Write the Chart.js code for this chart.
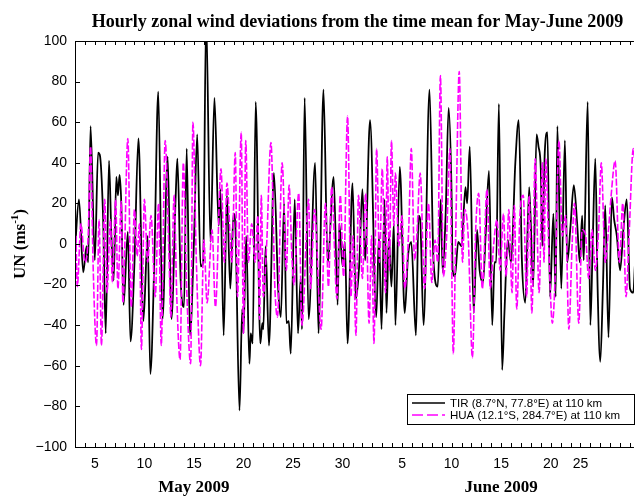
<!DOCTYPE html>
<html>
<head>
<meta charset="utf-8">
<title>Hourly zonal wind deviations May-June 2009</title>
<script src="https://cdn.jsdelivr.net/npm/chart.js@4.4.1/dist/chart.umd.min.js"></script>
<style>
  html, body { margin: 0; padding: 0; background: #fff; }
  #windChart { display: block; }
</style>
</head>
<body>
<canvas id="windChart" width="639" height="499"></canvas>
<script>
// time axis counts days from the start of May (June 5 = 36)
var tirDays = [3.0, 3.4, 3.83, 4.17, 4.33, 4.57, 5.0, 5.33, 5.5, 5.83, 6.1, 6.43, 6.67, 6.9, 7.17, 7.33, 7.5, 7.67, 7.9, 8.33,
  8.6, 9.0, 9.4, 9.9, 10.33, 10.6, 11.0, 11.4, 11.83, 12.35, 12.73, 13.17, 13.33, 13.67, 14.0, 14.27, 14.6, 15.0, 15.33, 15.67,
  15.93, 16.23, 16.67, 17.07, 17.5, 17.67, 18.0, 18.33, 18.67, 19.0, 19.17, 19.6, 19.87, 20.0, 20.27, 20.6, 20.73, 20.93, 21.23, 21.7,
  21.9, 22.0, 22.23, 22.57, 23.07, 23.5, 23.77, 24.1, 24.33, 24.57, 24.77, 25.17, 25.5, 25.77, 25.9, 26.17, 26.57, 27.23, 27.57, 28.07,
  28.5, 29.1, 29.5, 29.67, 30.0, 30.23, 30.5, 31.0, 31.33, 31.67, 32.0, 32.27, 32.77, 33.4, 33.67, 33.93, 34.23, 34.43, 34.67, 34.93,
  35.17, 35.33, 35.77, 36.27, 36.6, 36.93, 37.4, 37.67, 37.83, 38.17, 38.77, 39.17, 39.6, 39.9, 40.1, 40.4, 40.7, 41.0, 41.1, 41.33,
  41.67, 42.0, 42.4, 42.57, 42.83, 43.23, 43.57, 43.83, 44.17, 44.43, 44.77, 45.1, 45.33, 45.5, 45.77, 46.1, 46.33, 46.67, 47.0, 47.43,
  47.77, 48.1, 48.43, 48.83, 49.23, 49.57, 49.77, 50.0, 50.15, 50.4, 50.67, 50.93, 51.27, 51.5, 51.67, 52.07, 52.43, 52.67, 53.0, 53.33,
  53.67, 53.93, 54.17, 54.33, 54.73, 55.0, 55.23, 55.5, 55.73, 56.0, 56.27, 56.5, 56.83, 57.17, 57.4, 57.67, 58.0, 58.33, 58.67, 59.0,
  59.33, 59.5];
var tirWind = [-3, 22, -14, -1, -9, 58, -8, 45, 44, 14, -44, 41, 4, -18, 33, 24, 34, 20, -30, 6,
  -48, -9, 52, -38, 4, -64, -9, 75, -37, 43, -37, 25, 42, -19, -31, 47, -45, 1, 54, -11,
  -9, 112, 1, 72, 9, 27, -45, 24, -22, 15, 10, -82, -32, -44, 4, -59, -44, -49, 70, -49,
  -39, -42, -1, -50, 35, -22, -36, 20, -39, -38, -54, 22, -44, -17, -42, 72, -37, 40, -44, 76,
  -9, 33, -30, 10, -11, 1, -49, 30, -27, -11, 27, -8, 61, -36, 4, -42, 22, -34, 4, -21,
  10, -40, 38, -34, -6, 1, -45, 14, 12, -40, 76, -8, -21, 22, -14, 15, 67, 24, -13, -16,
  1, -1, 28, 20, 48, -34, 7, -13, -19, 4, 36, -40, -9, -9, 69, -62, -34, 2, -9, 40,
  61, -9, -29, 28, -21, 54, 48, 37, -1, 45, 55, -26, 15, -26, 58, -22, 51, -9, 9, 29,
  10, -9, 14, -8, 70, -40, -1, 42, -21, -58, -21, 19, -46, 23, 12, 4, -13, 7, 22, -22,
  -24, -10];

var huaDays = [3.1, 3.23, 3.6, 4.0, 4.33, 4.57, 4.83, 5.17, 5.43, 5.67, 6.0, 6.23, 6.57, 6.77, 7.1, 7.33, 7.67, 7.83, 8.33, 8.67,
  9.0, 9.27, 9.5, 9.7, 10.0, 10.33, 10.67, 11.1, 11.43, 11.7, 12.1, 12.5, 12.67, 13.0, 13.27, 13.6, 13.93, 14.27, 14.67, 14.9,
  15.23, 15.67, 16.0, 16.33, 16.83, 17.17, 17.73, 18.07, 18.33, 18.83, 19.17, 19.4, 19.77, 20.0, 20.23, 20.5, 20.83, 21.17, 21.45, 21.62,
  21.8, 22.0, 22.33, 22.77, 23.17, 23.43, 23.9, 24.33, 24.6, 24.9, 25.1, 25.57, 25.9, 26.57, 26.77, 27.17, 27.83, 28.27, 28.57, 28.9,
  29.43, 29.77, 30.1, 30.5, 30.85, 31.05, 31.35, 31.6, 32.0, 32.33, 32.67, 32.93, 33.17, 33.43, 33.73, 34.0, 34.33, 34.5, 34.73, 34.93,
  35.17, 35.33, 35.67, 36.0, 36.27, 36.67, 36.93, 37.27, 37.5, 37.83, 38.27, 38.67, 39.0, 39.33, 39.6, 39.87, 40.17, 40.5, 40.83, 41.0,
  41.17, 41.43, 41.77, 42.1, 42.33, 42.67, 43.1, 43.43, 43.73, 44.1, 44.57, 44.9, 45.23, 45.57, 45.9, 46.23, 46.5, 46.77, 47.1, 47.33,
  47.57, 47.9, 48.23, 48.57, 48.83, 49.1, 49.43, 49.83, 50.17, 50.32, 50.5, 50.83, 51.17, 51.5, 51.83, 52.17, 52.5, 52.83, 53.17, 53.4,
  53.83, 54.17, 54.5, 54.83, 55.17, 55.5, 55.83, 56.1, 56.5, 56.83, 57.1, 57.5, 57.93, 58.27, 58.6, 58.93, 59.33, 59.5];
var huaWind = [4, -21, 10, -9, 4, 48, -11, -50, 12, -50, 22, -24, 12, -19, 22, -22, 21, -29, 52, -31,
  17, -6, 10, -52, 22, -9, 14, -26, 20, -50, 51, -9, -36, 24, -26, -57, 40, -22, -59, 60,
  -6, -60, 2, -29, 7, -31, 37, -9, 30, -9, 45, -26, 55, -44, 51, -9, 10, -9, 14, -37,
  24, -26, -1, 50, -22, -36, 40, -13, 29, -8, -20, 25, -40, 22, -22, 17, -42, 20, -21, 28,
  -27, 24, -16, 63, -26, 4, -45, 24, -17, 25, -39, 4, -49, 47, -9, 37, -24, 43, -13, 51,
  9, 35, -1, 14, -22, 7, 47, -8, 5, 35, -22, 20, -19, 2, -9, 83, -16, 4, 47, -8,
  -54, 9, 85, -9, 17, 4, -56, 7, 25, -22, 27, -22, -1, 12, -13, 15, -16, 17, -24, 19,
  -32, 15, 24, -26, 24, -34, 42, -24, 40, -9, 42, -6, -39, -9, 51, 4, 14, -42, 1, 20,
  -39, 7, 5, -17, 7, -13, 7, 40, -9, 7, 24, 41, -9, 20, -26, 7, 47, 40];

var tickDays = [5, 10, 15, 20, 25, 30, 36, 41, 46, 51, 54];
var tickText = ['5', '10', '15', '20', '25', '30', '5', '10', '15', '20', '25'];
var monthDays = [15, 46];
var monthText = ['May 2009', 'June 2009'];

function toPoints(days, vals) {
  return days.map(function(d, i) { return { x: d, y: vals[i] }; });
}

var serif = '"Liberation Serif", "Times New Roman", serif';

// box, inward ticks, titles and the boxed legend
var framePlugin = {
  id: 'frame',
  afterDraw: function(chart) {
    var ctx = chart.ctx;
    var a = chart.chartArea;
    var xs = chart.scales.x;
    var ys = chart.scales.y;
    ctx.save();
    ctx.strokeStyle = '#000';
    ctx.lineWidth = 1;
    ctx.beginPath();
    ctx.moveTo(a.right, a.top + 0.5);
    ctx.lineTo(a.left + 0.5, a.top + 0.5);
    ctx.lineTo(a.left + 0.5, a.bottom + 0.5);
    ctx.lineTo(a.right, a.bottom + 0.5);
    // minor day ticks top and bottom
    xs.ticks.forEach(function(t) {
      var px = Math.round(xs.getPixelForValue(t.value)) + 0.5;
      ctx.moveTo(px, a.top);
      ctx.lineTo(px, a.top + 4);
      ctx.moveTo(px, a.bottom);
      ctx.lineTo(px, a.bottom - 4);
    });
    ys.ticks.forEach(function(t) {
      var py = Math.round(ys.getPixelForValue(t.value)) + 0.5;
      ctx.moveTo(a.left, py);
      ctx.lineTo(a.left + 5, py);
    });
    ctx.stroke();

    ctx.fillStyle = '#000';
    ctx.textAlign = 'center';
    ctx.textBaseline = 'middle';
    ctx.font = 'bold 18px ' + serif;
    ctx.fillText('Hourly zonal wind deviations from the time mean for May-June 2009', (a.left + a.right) / 2 + 3, 22);

    ctx.font = 'bold 17px ' + serif;
    monthDays.forEach(function(d, i) {
      ctx.fillText(monthText[i], xs.getPixelForValue(d), 488);
    });

    // y title with superscript
    ctx.translate(21, (a.top + a.bottom) / 2);
    ctx.rotate(-Math.PI / 2);
    var mainFont = 'bold 17px ' + serif;
    var supFont = 'bold 11px ' + serif;
    ctx.font = mainFont;
    var w1 = ctx.measureText('UN (ms').width;
    var w3 = ctx.measureText(')').width;
    ctx.font = supFont;
    var w2 = ctx.measureText('-1').width;
    var x0 = -(w1 + w2 + w3) / 2;
    ctx.textAlign = 'left';
    ctx.font = mainFont;
    ctx.fillText('UN (ms', x0, 0);
    ctx.font = supFont;
    ctx.fillText('-1', x0 + w1, -6);
    ctx.font = mainFont;
    ctx.fillText(')', x0 + w1 + w2, 0);
    ctx.restore();

    // legend box
    var bx = 407, by = 394, bw = 227, bh = 30;
    ctx.save();
    ctx.fillStyle = '#fff';
    ctx.fillRect(bx, by, bw, bh);
    ctx.strokeStyle = '#000';
    ctx.lineWidth = 1;
    ctx.strokeRect(bx + 0.5, by + 0.5, bw, bh);
    ctx.font = '11.5px "Liberation Sans", Arial, sans-serif';
    ctx.textBaseline = 'middle';
    ctx.textAlign = 'left';
    chart.data.datasets.forEach(function(ds, i) {
      var ly = by + 9 + i * 12;
      ctx.strokeStyle = ds.borderColor;
      ctx.lineWidth = 1.5;
      ctx.setLineDash(ds.borderDash ? [11, 4] : []);
      ctx.beginPath();
      ctx.moveTo(bx + 5, ly);
      ctx.lineTo(bx + 38, ly);
      ctx.stroke();
      ctx.setLineDash([]);
      ctx.fillStyle = '#000';
      ctx.fillText(ds.label, bx + 43, ly + 0.5);
    });
    ctx.restore();
  }
};

var windCtx = document.getElementById('windChart').getContext('2d');
var windChart = new Chart(windCtx, {
  type: 'line',
  data: {
    datasets: [{
      label: 'TIR (8.7\u00B0N, 77.8\u00B0E) at 110 km',
      data: toPoints(tirDays, tirWind),
      borderColor: '#000000',
      borderWidth: 1.8,
      pointRadius: 0,
      cubicInterpolationMode: 'monotone',
      order: 1
    }, {
      label: 'HUA (12.1\u00B0S, 284.7\u00B0E) at 110 km',
      data: toPoints(huaDays, huaWind),
      borderColor: '#ff00ff',
      borderWidth: 1.6,
      borderDash: [7, 2],
      pointRadius: 0,
      cubicInterpolationMode: 'monotone',
      order: 0
    }]
  },
  options: {
    responsive: false,
    animation: false,
    devicePixelRatio: 1,
    layout: { padding: { top: 41, right: 0, bottom: 0, left: 0 } },
    plugins: {
      legend: { display: false },
      tooltip: { enabled: false },
      title: { display: false }
    },
    scales: {
      x: {
        type: 'linear',
        min: 3,
        max: 59.4,
        grid: { display: false, drawTicks: false },
        border: { display: false },
        afterBuildTicks: function(scale) {
          var t = [];
          for (var d = 3; d <= 59; d++) t.push({ value: d });
          scale.ticks = t;
        },
        afterFit: function(scale) { scale.height = 52; },
        ticks: {
          autoSkip: false,
          maxRotation: 0,
          padding: 9,
          color: '#000',
          font: { family: '"Liberation Sans", Arial, sans-serif', size: 14 },
          callback: function(value) {
            var k = tickDays.indexOf(value);
            return k >= 0 ? tickText[k] : '';
          }
        }
      },
      y: {
        min: -100,
        max: 100,
        grid: { display: false, drawTicks: false },
        border: { display: false },
        afterFit: function(scale) { scale.width = 75; },
        ticks: {
          stepSize: 20,
          padding: 8,
          color: '#000',
          font: { family: '"Liberation Sans", Arial, sans-serif', size: 14 },
          callback: function(value) {
            return value < 0 ? '\u2212' + Math.abs(value) : String(value);
          }
        }
      }
    }
  },
  plugins: [framePlugin]
});
</script>
</body>
</html>
